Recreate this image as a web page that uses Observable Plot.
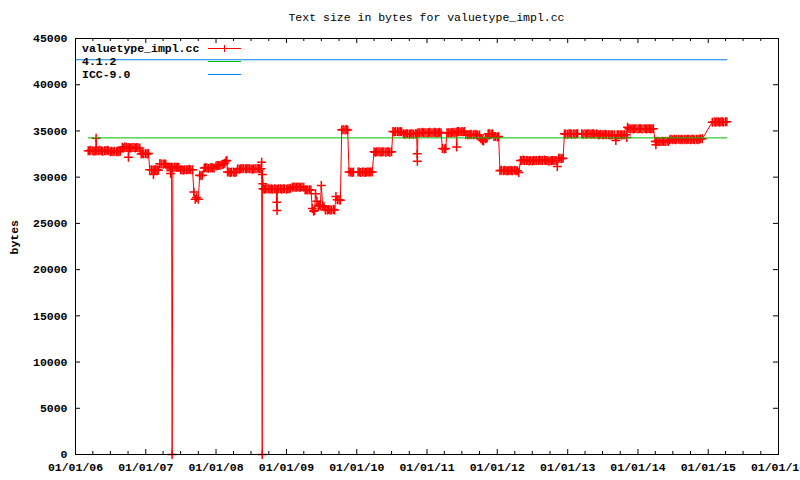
<!DOCTYPE html>
<html><head><meta charset="utf-8">
<script src="https://cdn.jsdelivr.net/npm/d3@7"></script>
<script src="https://cdn.jsdelivr.net/npm/@observablehq/plot@0.6"></script>
<style>
html,body{margin:0;padding:0;background:#fff;overflow:hidden;width:800px;height:480px;}
#wrap{position:relative;width:800px;height:480px;overflow:hidden;}
#title{position:absolute;left:75px;width:703px;top:11px;line-height:14px;text-align:center;font:11.5px "Liberation Mono",monospace;color:#000;}
#chart{position:absolute;left:0;top:30px;}
#legend{position:absolute;left:82px;top:42px;font:bold 11.5px "Liberation Mono",monospace;color:#000;}
.row{height:13px;line-height:13px;position:relative;white-space:nowrap;}
.row svg{position:absolute;left:126px;top:0;}
</style></head>
<body>
<div id="wrap">
  <div id="title">Text size in bytes for valuetype_impl.cc</div>
  <div id="chart"></div>
  <div id="legend"></div>
</div>
<script>
// ---- data ----
const weekDays = [1, 8, 15, 22]; // sampling days inside each month
const sizeRows = [
["2006-03", null, 32850, 32850, 32900],
["2006-04", 32850, 32800, 32850, 32850],
["2006-05", 32850, 32900, 32850, 32800],
["2006-06", 32850, 32850, 32900, 32850],
["2006-07", 32750, 32800, 32750, 32800],
["2006-08", 32750, 32800, 32750, 32800],
["2006-09", 33250, 33150, 33300, 33200],
["2006-10", 33200, 33200, 33150, 33200],
["2006-11", 33200, 33150, 33200, 33180],
["2006-12", 33150, 32500, 32550, 32500],
["2007-01", 32550, 32500, 32550, 30800],
["2007-02", 30800, 30750, 30800, 30800],
["2007-03", 30800, 30750, 31450, 31450],
["2007-04", 31400, 31450, 31400, 31100],
["2007-05", 31100, 31050, 31100, 31050],
["2007-06", 31100, 31050, 31100, 31050],
["2007-07", 30800, 30800, 30750, 30800],
["2007-08", 30800, 30800, 30850, 30800],
["2007-09", 30800, 28400, 27600, 27800],
["2007-10", 27600, 30200, 30150, 30200],
["2007-11", 31000, 31050, 31000, 30950],
["2007-12", 31000, 31050, 31000, 31000],
["2008-01", 31200, 31250, 31250, 31300],
["2008-02", 31350, 31400, 31500, 31750],
["2008-03", 30550, 30550, 30500, 30550],
["2008-04", 30550, 30500, 30550, 30900],
["2008-05", 30850, 30900, 30900, 30950],
["2008-06", 30900, 30900, 30950, 30900],
["2008-07", 30900, 30850, 30900, 30900],
["2008-08", 30900, 30950, 30900, 30900],
["2008-09", 28750, 28700, 28750, 28750],
["2008-10", 28750, 28700, 28750, 28700],
["2008-11", 28750, 28700, 28700, 28750],
["2008-12", 28750, 28700, 28750, 28750],
["2009-01", 28700, 28750, 28750, 28800],
["2009-02", 28900, 28950, 28900, 28900],
["2009-03", 28950, 28900, 28900, 28950],
["2009-04", 28900, 28600, 28650, 28600],
["2009-05", 28650, 28600, 26600, 26300],
["2009-06", 28200, 27400, 26900, 27000],
["2009-07", 29100, 26900, 26800, 26450],
["2009-08", 26450, 26500, 26450, 26450],
["2009-09", 26500, 26450, 27900, 27550],
["2009-10", 27550, 27500, 35100, 35150],
["2009-11", 35100, 35150, 35100, 30550],
["2009-12", 30550, 30500, 30550, null],
["2010-01", null, 30550, 30550, 30500],
["2010-02", 30550, 30550, 30500, 30550],
["2010-03", 30550, 30550, 30550, 30550],
["2010-04", 32750, 32700, 32750, 32750],
["2010-05", 32750, 32700, 32750, 32750],
["2010-06", 32700, 32750, 32750, 32700],
["2010-07", 32750, 34950, 34900, 34950],
["2010-08", 34950, 34900, 34950, 34900],
["2010-09", 34700, 34650, 34700, 34700],
["2010-10", 34650, 34700, 34700, 34650],
["2010-11", 34700, 34700, 34800, 34800],
["2010-12", 34800, 34850, 34800, 34800],
["2011-01", 34800, 34800, 34850, 34800],
["2011-02", 34800, 34850, 34800, 34800],
["2011-03", 34800, 34850, 34800, 33100],
["2011-04", 33050, 33100, 34800, 34800],
["2011-05", 34800, 34800, 34850, 34800],
["2011-06", 34850, 34950, 34950, 34900],
["2011-07", 34950, 34900, 34950, 34600],
["2011-08", 34600, 34600, 34650, 34600],
["2011-09", 34600, 34650, 34600, 34550],
["2011-10", 34550, 34150, 34000, 33900],
["2011-11", 34150, 34200, 34700, 34700],
["2011-12", 34650, 34700, 34400, 34400],
["2012-01", 34350, 34400, 30700, 30750],
["2012-02", 30700, 30750, 30700, 30700],
["2012-03", 30700, 30750, 30700, 30700],
["2012-04", 30750, 30700, 30700, 30500],
["2012-05", 31800, 31800, 31850, 31800],
["2012-06", 31800, 31800, 31750, 31800],
["2012-07", 31750, 31800, 31800, 31800],
["2012-08", 31800, 31850, 31800, 31800],
["2012-09", 31850, 31800, 31800, 31750],
["2012-10", 31750, 31800, 31800, 31800],
["2012-11", 31800, 31150, 32050, 32050],
["2012-12", 32000, 32050, 34700, 34650],
["2013-01", 34650, 34700, 34700, 34650],
["2013-02", 34700, 34650, 34700, 34700],
["2013-03", null, null, 34700, 34650],
["2013-04", 34700, 34650, 34700, 34700],
["2013-05", 34650, 34700, 34700, 34650],
["2013-06", 34700, 34600, 34600, 34650],
["2013-07", 34600, 34600, 34650, 34600],
["2013-08", 34600, 34550, 34600, 34600],
["2013-09", 34550, 33970, 34600, 34600],
["2013-10", 34600, 34550, 34600, 34600],
["2013-11", 34600, 35400, 35250, 35200],
["2013-12", 35250, 35200, 35250, 35250],
["2014-01", 35200, 35250, 35250, 35200],
["2014-02", 35250, 35250, 35200, 35250],
["2014-03", 35250, 35200, 35250, 35250],
["2014-04", 33850, 33850, 33900, 33850],
["2014-05", 33850, 33900, 33850, 33850],
["2014-06", 33900, 33850, 34050, 34100],
["2014-07", 34050, 34100, 34050, 34100],
["2014-08", 34100, 34050, 34100, 34050],
["2014-09", 34100, 34050, 34100, 34100],
["2014-10", 34050, 34100, 34100, 34050],
["2014-11", 34100, 34050, 34100, 34150],
["2014-12", 34150, null, null, null],
["2015-01", null, null, null, 35950],
["2015-02", 36000, 35950, 36000, 36000],
["2015-03", 35950, 36000, 36000, 35950],
["2015-04", 36000, 36000, null, null]
];
const extraPoints = [
["2006-04-18", 34200],
["2006-10-03", 32160],
["2007-02-10", 30290],
["2007-05-10", 30400],
["2007-05-18", 0],
["2008-02-26", 31800],
["2008-08-25", 31620],
["2008-08-28", 0],
["2008-08-29", 30290],
["2008-08-31", 29280],
["2008-11-12", 27290],
["2008-11-13", 26390],
["2009-05-27", 26400],
["2009-06-26", 26900],
["2010-11-11", 32530],
["2010-11-12", 31730],
["2011-06-04", 33250],
["2013-11-04", 34300],
["2014-04-04", 33500]
];
const seriesName = "valuetype_impl.cc";
const seriesColor = "#ff0000";
const refNames = ["4.1.2", "ICC-9.0"];
const refValues = [34250, 42700];
const refStarts = ["2006-03-08", "2006-01-01"];
const refEnds = ["2015-04-08", "2015-04-08"];
const refColors = ["#00c000", "#0080ff"];
const yTicks = [0, 5000, 10000, 15000, 20000, 25000, 30000, 35000, 40000, 45000];
const xTickDates = ["2006-01-01","2007-01-01","2008-01-01","2009-01-01","2010-01-01","2011-01-01","2012-01-01","2013-01-01","2014-01-01","2015-01-01","2016-01-01"];

// ---- build ----
const series = [];
for (const [month, ...vals] of sizeRows) {
  vals.forEach((v, i) => {
    if (v != null) series.push({date: new Date(`${month}-${String(weekDays[i]).padStart(2, "0")}`), value: v});
  });
}
for (const [d, v] of extraPoints) series.push({date: new Date(d), value: v});
series.sort((a, b) => a.date - b.date);

const xTicks = xTickDates.map(d => new Date(d));
const xDomain = [xTicks[0], xTicks[xTicks.length - 1]];
const quarterTicks = d3.utcMonth.every(3).range(xDomain[0], xDomain[1]).filter(d => d.getUTCMonth() !== 0);

const W = 800, H = 450, mt = 8, mb = 26, ml = 75, mr = 22;
const fh = H - mt - mb, fw = W - ml - mr;
const majorLen = 5, minorLen = 3;

const refMarks = refNames.map((n, i) => Plot.line(
  [{date: new Date(refStarts[i]), value: refValues[i]}, {date: new Date(refEnds[i]), value: refValues[i]}],
  {x: "date", y: "value", stroke: refColors[i], strokeWidth: 1}
));

const chart = Plot.plot({
  width: W, height: H,
  marginTop: mt, marginBottom: mb, marginLeft: ml, marginRight: mr,
  style: {fontFamily: '"Liberation Mono", monospace', fontSize: "11.5px", fontWeight: "bold", background: "#fff", color: "#000"},
  x: {type: "utc", domain: xDomain},
  y: {domain: [0, 45000]},
  marks: [
    Plot.line(series, {x: "date", y: "value", stroke: seriesColor, strokeWidth: 1}),
    Plot.dot(series, {x: "date", y: "value", symbol: "plus", r: 3.0, stroke: seriesColor, strokeWidth: 1.5}),
    ...refMarks,
    Plot.frame({stroke: "#000", strokeWidth: 1}),
    Plot.tickX(xTicks, {x: d => d, insetTop: fh - majorLen, stroke: "#000"}),
    Plot.tickX(xTicks, {x: d => d, insetBottom: fh - majorLen, stroke: "#000"}),
    Plot.tickX(quarterTicks, {x: d => d, insetTop: fh - minorLen, stroke: "#000"}),
    Plot.tickX(quarterTicks, {x: d => d, insetBottom: fh - minorLen, stroke: "#000"}),
    Plot.tickY(yTicks, {y: d => d, insetRight: fw - majorLen, stroke: "#000"}),
    Plot.tickY(yTicks, {y: d => d, insetLeft: fw - majorLen, stroke: "#000"}),
    Plot.axisX({ticks: xTicks, tickFormat: d3.utcFormat("%m/%d/%y"), tickSize: 0, tickPadding: 8, label: null}),
    Plot.axisY({ticks: yTicks, tickFormat: d3.format("d"), tickSize: 0, tickPadding: 8, label: null}),
    Plot.text(["bytes"], {frameAnchor: "left", rotate: -90, dx: -61, dy: 8, fill: "#000"})
  ]
});
document.getElementById("chart").appendChild(chart);

// ---- legend ----
const legend = document.getElementById("legend");
const entries = [{name: seriesName, color: seriesColor, marker: true}]
  .concat(refNames.map((n, i) => ({name: n, color: refColors[i], marker: false})));
for (const e of entries) {
  const row = document.createElement("div");
  row.className = "row";
  row.appendChild(document.createTextNode(e.name));
  const s = d3.create("svg").attr("width", 34).attr("height", 13);
  s.append("line").attr("x1", 0).attr("x2", 33).attr("y1", 6.5).attr("y2", 6.5).attr("stroke", e.color);
  if (e.marker) s.append("line").attr("x1", 16.5).attr("x2", 16.5).attr("y1", 3).attr("y2", 10).attr("stroke", e.color);
  row.appendChild(s.node());
  legend.appendChild(row);
}
</script>
</body></html>
